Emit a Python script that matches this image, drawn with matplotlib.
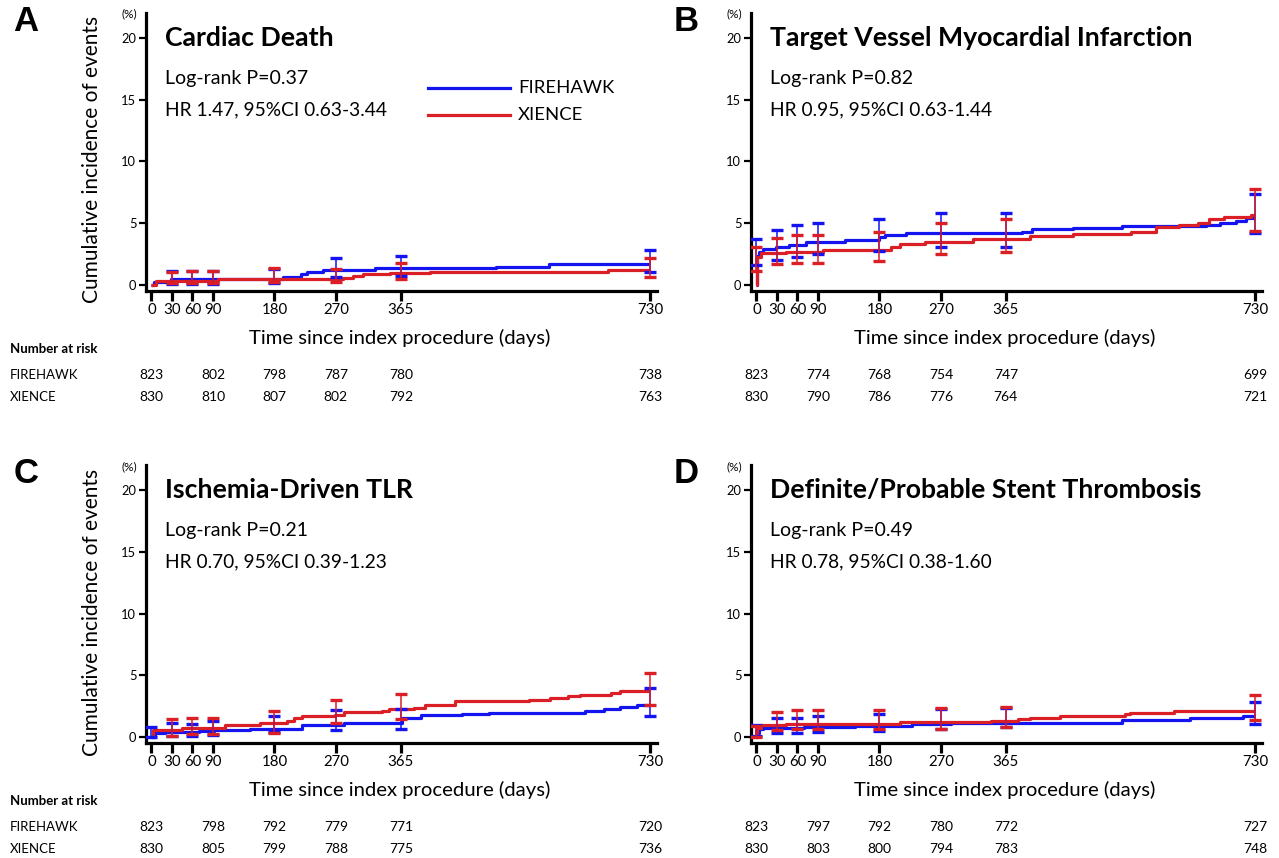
import numpy as np
import matplotlib
matplotlib.use("Agg")
import matplotlib.pyplot as plt
from matplotlib.lines import Line2D
import matplotlib.transforms as mtrans

nan = np.nan

# ---------------- data ----------------
groups = ["FIREHAWK", "XIENCE"]
panel_letters = ["A", "B", "C", "D"]
titles = ["Cardiac Death", "Target Vessel Myocardial Infarction",
          "Ischemia-Driven TLR", "Definite/Probable Stent Thrombosis"]
logrank = ["Log-rank P=0.37", "Log-rank P=0.82", "Log-rank P=0.21", "Log-rank P=0.49"]
hr_text = ["HR 1.47, 95%CI 0.63-3.44", "HR 0.95, 95%CI 0.63-1.44",
           "HR 0.70, 95%CI 0.39-1.23", "HR 0.78, 95%CI 0.38-1.60"]

x_ticks = [0, 30, 60, 90, 180, 270, 365, 730]
y_ticks = [0, 5, 10, 15, 20]
ci_days = [0, 30, 60, 90, 180, 270, 365, 730]
risk_days = [0, 90, 180, 270, 365, 730]
end_day = 730

# Panel A - Cardiac death
a_fh_t = [0, 3, 28, 192, 219, 227, 251, 327, 505, 582]
a_fh_y = [0, 0.24, 0.45, 0.62, 0.84, 1.0, 1.19, 1.37, 1.46, 1.68]
a_xi_t = [0, 7, 97, 280, 295, 310, 349, 407, 669]
a_xi_y = [0, 0.3, 0.45, 0.57, 0.7, 0.84, 0.97, 1.06, 1.19]
a_fh_hi = [nan, 1.16, 1.16, 1.16, 1.3, 2.2, 2.35, 2.85]
a_fh_lo = [nan, 0.1, 0.1, 0.1, 0.15, 0.6, 0.68, 1.0]
a_xi_hi = [nan, 1.08, 1.16, 1.16, 1.35, 1.27, 1.8, 2.2]
a_xi_lo = [nan, 0.13, 0.13, 0.13, 0.2, 0.2, 0.5, 0.6]
a_risk_fh = [823, 802, 798, 787, 780, 738]
a_risk_xi = [830, 810, 807, 802, 792, 763]

# Panel B - Target vessel MI
b_fh_t = [0, 1, 4, 9, 28, 48, 72, 129, 180, 188, 219, 389, 403, 464, 535, 658, 678, 702, 717]
b_fh_y = [0, 2.3, 2.65, 2.9, 3.05, 3.24, 3.5, 3.67, 3.86, 4.0, 4.19, 4.32, 4.49, 4.6, 4.73,
          4.86, 5.0, 5.2, 5.45]
b_xi_t = [0, 1, 6, 43, 97, 197, 210, 246, 317, 401, 464, 548, 585, 619, 646, 663, 685, 724]
b_xi_y = [0, 2.24, 2.57, 2.68, 2.86, 3.05, 3.3, 3.5, 3.7, 3.92, 4.13, 4.32, 4.68, 4.86, 5.05,
          5.3, 5.49, 5.68]
b_fh_hi = [3.73, 4.46, 4.81, 5.03, 5.35, 5.84, 5.84, 7.32]
b_fh_lo = [1.57, 2.05, 2.24, 2.46, 2.73, 3.05, 3.05, 4.2]
b_xi_hi = [3.1, 3.81, 4.0, 4.0, 4.32, 5.0, 5.35, 7.73]
b_xi_lo = [1.16, 1.65, 1.76, 1.76, 1.92, 2.46, 2.65, 4.35]
b_risk_fh = [823, 774, 768, 754, 747, 699]
b_risk_xi = [830, 790, 786, 776, 764, 721]

# Panel C - Ischemia-driven TLR
c_fh_t = [0, 5, 20, 69, 91, 144, 220, 282, 367, 394, 455, 494, 634, 663, 686, 710]
c_fh_y = [0, 0.32, 0.4, 0.46, 0.54, 0.65, 0.95, 1.16, 1.54, 1.76, 1.9, 1.95, 2.1, 2.3, 2.43, 2.57]
c_xi_t = [0, 2, 44, 108, 159, 198, 208, 220, 269, 282, 338, 348, 384, 401, 445, 553, 583,
          610, 627, 673, 686]
c_xi_y = [0, 0.54, 0.73, 0.95, 1.14, 1.3, 1.54, 1.68, 1.81, 2.0, 2.14, 2.3, 2.35, 2.62, 2.89,
          3.03, 3.19, 3.32, 3.43, 3.54, 3.7]
c_fh_hi = [0.86, 1.14, 1.08, 1.27, 1.68, 2.16, 2.3, 3.97]
c_fh_lo = [0.05, 0.08, 0.08, 0.19, 0.41, 0.54, 0.62, 1.68]
c_xi_hi = [nan, 1.43, 1.57, 1.57, 2.08, 3.03, 3.51, 5.2]
c_xi_lo = [nan, 0.13, 0.27, 0.27, 0.32, 1.14, 1.43, 2.57]
c_risk_fh = [823, 798, 792, 779, 771, 720]
c_risk_xi = [830, 805, 799, 788, 775, 736]

# Panel D - Definite/probable stent thrombosis
d_fh_t = [0, 1, 4, 9, 70, 144, 227, 285, 535, 634, 712]
d_fh_y = [0, 0.3, 0.62, 0.7, 0.8, 0.92, 1.05, 1.18, 1.38, 1.55, 1.72]
d_xi_t = [0, 1, 6, 43, 210, 344, 383, 401, 445, 540, 547, 611]
d_xi_y = [0, 0.75, 0.95, 1.08, 1.2, 1.32, 1.45, 1.58, 1.72, 1.85, 1.95, 2.08]
d_fh_hi = [1.0, 1.51, 1.51, 1.7, 1.84, 2.24, 2.38, 2.84]
d_fh_lo = [0.1, 0.35, 0.35, 0.4, 0.49, 0.68, 0.81, 1.05]
d_xi_hi = [0.9, 2.03, 2.16, 2.16, 2.16, 2.32, 2.46, 3.45]
d_xi_lo = [0.05, 0.54, 0.62, 0.62, 0.62, 0.68, 0.81, 1.35]
d_risk_fh = [823, 797, 792, 780, 772, 727]
d_risk_xi = [830, 803, 800, 794, 783, 748]

# ---------------- style / layout ----------------
W, H = 1279, 858
FONT = "Lato"
plt.rcParams['font.family'] = [FONT, 'DejaVu Sans']
BLUE = "#1414F0"
RED = "#DA1F26"

fig = plt.figure(figsize=(W / 100, H / 100), dpi=100)


def fx(x):
    return x / W


def fy(y):
    return 1 - y / H


panels = [
    dict(t=(a_fh_t, a_xi_t), y=(a_fh_y, a_xi_y), hi=(a_fh_hi, a_xi_hi), lo=(a_fh_lo, a_xi_lo),
         risk=(a_risk_fh, a_risk_xi)),
    dict(t=(b_fh_t, b_xi_t), y=(b_fh_y, b_xi_y), hi=(b_fh_hi, b_xi_hi), lo=(b_fh_lo, b_xi_lo),
         risk=(b_risk_fh, b_risk_xi)),
    dict(t=(c_fh_t, c_xi_t), y=(c_fh_y, c_xi_y), hi=(c_fh_hi, c_xi_hi), lo=(c_fh_lo, c_xi_lo),
         risk=(c_risk_fh, c_risk_xi)),
    dict(t=(d_fh_t, d_xi_t), y=(d_fh_y, d_xi_y), hi=(d_fh_hi, d_xi_hi), lo=(d_fh_lo, d_xi_lo),
         risk=(d_risk_fh, d_risk_xi)),
]

# pixel geometry of each panel: (axes left, axes top)
col_left = [146, 751]
row_top = [12.7, 465]
letter_x = [26, 686]
ax_w, ax_h = 511, 278.3
colors = [BLUE, RED]

for i, p in enumerate(panels):
    r, c = divmod(i, 2)
    L, T = col_left[c], row_top[r]
    ax = fig.add_axes([fx(L), fy(T + ax_h), ax_w / W, ax_h / H])
    ax.set_xlim(-8, 740)
    ax.set_ylim(-0.5, 22.05)
    for s in ["top", "right"]:
        ax.spines[s].set_visible(False)
    for s in ["left", "bottom"]:
        ax.spines[s].set_linewidth(2.3)
    ax.set_xticks(x_ticks)
    ax.set_yticks(y_ticks)
    ax.tick_params(axis='x', direction='out', length=7, width=2.3, labelsize=10.8, pad=1.5)
    ax.tick_params(axis='y', direction='out', length=5, width=1.6, labelsize=9.3, pad=2)

    # curves (FIREHAWK first, XIENCE on top)
    for g in range(2):
        t = list(p["t"][g]) + [end_day]
        y = list(p["y"][g]) + [p["y"][g][-1]]
        ax.step(t, y, where='post', color=colors[g], lw=2.3, zorder=3 + g,
                solid_capstyle='butt')
    # confidence bars
    for g in range(2):
        lo = np.array(p["lo"][g], float)
        hi = np.array(p["hi"][g], float)
        d = np.array(ci_days, float)
        m = ~np.isnan(lo)
        mid = (lo[m] + hi[m]) / 2
        half = (hi[m] - lo[m]) / 2
        ax.errorbar(d[m], mid, yerr=half, fmt='none', ecolor=colors[g], elinewidth=1.1,
                    capsize=4.6, capthick=2.4, zorder=5 + g)

    # texts within panel
    tx = L + 19
    ax.text(fx(tx), fy(T + 25), titles[i], transform=fig.transFigure, fontsize=19.2,
            fontweight='bold', va='center', ha='left')
    ax.text(fx(tx), fy(T + 65.5), logrank[i], transform=fig.transFigure, fontsize=14,
            va='center', ha='left')
    ax.text(fx(tx), fy(T + 97), hr_text[i], transform=fig.transFigure, fontsize=13.8,
            va='center', ha='left')

    # panel letter and (%)
    fig.text(fx(letter_x[c]), fy(T + 9), panel_letters[i], fontsize=25, fontweight='bold',
             family=['Liberation Sans', 'DejaVu Sans'], va='center', ha='center')
    fig.text(fx(L - 17), fy(T + 1.5), "(%)", fontsize=8.5, va='center', ha='center')

    # x label
    fig.text(fx(L + ax_w / 2 - 2), fy(T + 325), "Time since index procedure (days)",
             fontsize=14.6, va='center', ha='center')
    if c == 0:
        fig.text(fx(92), fy(T + 147), "Cumulative incidence of events", fontsize=15,
                 rotation=90, va='center', ha='center')

    # number at risk table
    trans = mtrans.blended_transform_factory(ax.transData, fig.transFigure)
    if c == 0:
        fig.text(fx(10), fy(T + 336), "Number at risk", fontsize=9.5, fontweight='bold',
                 va='center', ha='left')
        fig.text(fx(10), fy(T + 362), groups[0], fontsize=9.5, va='center', ha='left')
        fig.text(fx(10), fy(T + 384), groups[1], fontsize=9.5, va='center', ha='left')
    for g, yy in enumerate([T + 362, T + 384]):
        for dday, n in zip(risk_days, p["risk"][g]):
            ax.text(dday, fy(yy), str(n), transform=trans, fontsize=10, va='center',
                    ha='center', clip_on=False)

# legend (panel A)
for g, yy in enumerate([88, 115]):
    fig.add_artist(Line2D([fx(428), fx(510)], [fy(yy), fy(yy)], color=colors[g], lw=2.3,
                          transform=fig.transFigure))
    fig.text(fx(518), fy(yy), groups[g], fontsize=13.3, va='center', ha='left')

fig.savefig("out.png", dpi=100)
